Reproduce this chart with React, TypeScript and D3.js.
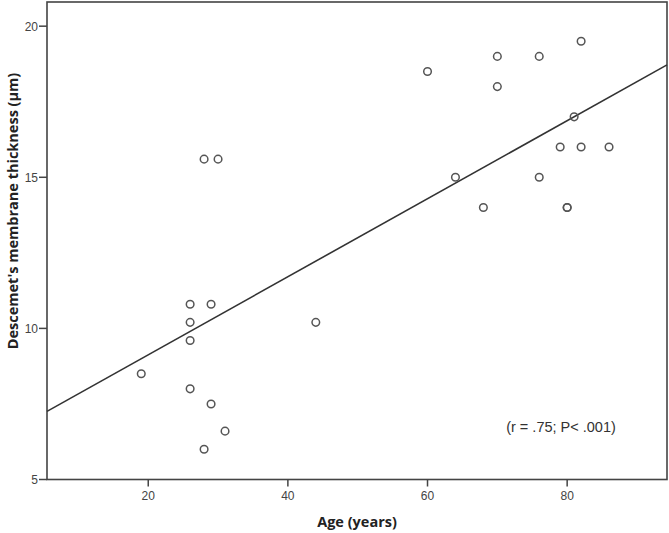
import React from "react";
import * as d3 from "d3";

const ages: number[] = [19, 26, 26, 26, 26, 28, 28, 29, 29, 30, 31, 44, 60, 64, 68, 70, 70, 76, 76, 79, 80, 80, 81, 82, 82, 86];
const thickness: number[] = [8.5, 10.8, 10.2, 9.6, 8.0, 15.6, 6.0, 10.8, 7.5, 15.6, 6.6, 10.2, 18.5, 15, 14, 19, 18, 19, 15, 16, 14, 14, 17, 19.5, 16, 16];
const xTicks: number[] = [20, 40, 60, 80];
const yTicks: number[] = [5, 10, 15, 20];
const xTitle = "Age (years)";
const yTitle = "Descemet's membrane thickness (μm)";
const annotation = "(r = .75; P< .001)";

export default function App() {
  const W = 669, H = 533;
  const left = 47, right = 667, top = 2, bottom = 479.5;
  const x = d3.scaleLinear().domain([5.5, 94.3]).range([left, right]);
  const y = d3.scaleLinear().domain([5, 20.8]).range([bottom, top]);

  const pts = ages.map((a, i) => ({ a, t: thickness[i] }));
  const mx = d3.mean(ages) as number;
  const my = d3.mean(thickness) as number;
  let sxy = 0, sxx = 0;
  pts.forEach((p) => { sxy += (p.a - mx) * (p.t - my); sxx += (p.a - mx) ** 2; });
  const slope = sxy / sxx;
  const icpt = my - slope * mx;
  const [x0, x1] = x.domain();
  const lineGen = d3.line<[number, number]>().x((d) => x(d[0])).y((d) => y(d[1]));
  const fitPath = lineGen([[x0, icpt + slope * x0], [x1, icpt + slope * x1]]) || "";

  const axisColor = "#444";
  const font = "'Liberation Sans', Arial, sans-serif";
  const titleFont = "'Open Sans', 'DejaVu Sans', sans-serif";

  return (
    <svg width={W} height={H} style={{ position: "absolute", left: 0, top: 0, background: "#fff" }}>
      <rect x={0} y={0} width={W} height={H} fill="#fff" />
      {/* frame */}
      <rect x={left} y={top} width={right - left} height={bottom - top} fill="none" stroke={axisColor} strokeWidth={1.6} />
      {/* fit line */}
      <path d={fitPath} stroke="#333" strokeWidth={1.6} fill="none" />
      {/* points */}
      {pts.map((p, i) => (
        <circle key={i} cx={x(p.a)} cy={y(p.t)} r={3.8} fill="none" stroke="#555" strokeWidth={1.5} />
      ))}
      {/* x ticks */}
      {xTicks.map((t) => (
        <g key={t}>
          <line x1={x(t)} x2={x(t)} y1={bottom} y2={bottom + 7} stroke={axisColor} strokeWidth={1.5} />
          <text x={x(t)} y={bottom + 20} textAnchor="middle" fontFamily={font} fontSize={12} fill="#444">{t}</text>
        </g>
      ))}
      {/* y ticks */}
      {yTicks.map((t) => (
        <g key={t}>
          <line x1={left - 8} x2={left} y1={y(t)} y2={y(t)} stroke={axisColor} strokeWidth={1.5} />
          <text x={left - 9} y={y(t) + 4.5} textAnchor="end" fontFamily={font} fontSize={12} fill="#444">{t}</text>
        </g>
      ))}
      <text x={(left + right) / 2} y={527} textAnchor="middle" fontFamily={titleFont} fontWeight="bold" fontSize={14.5} fill="#222">{xTitle}</text>
      <text transform={`translate(18, 211) rotate(-90)`} textAnchor="middle" fontFamily={titleFont} fontWeight="bold" fontSize={14.5} fill="#222">{yTitle}</text>
      <text x={561} y={432} textAnchor="middle" fontFamily={font} fontSize={14.5} fill="#333">{annotation}</text>
    </svg>
  );
}
